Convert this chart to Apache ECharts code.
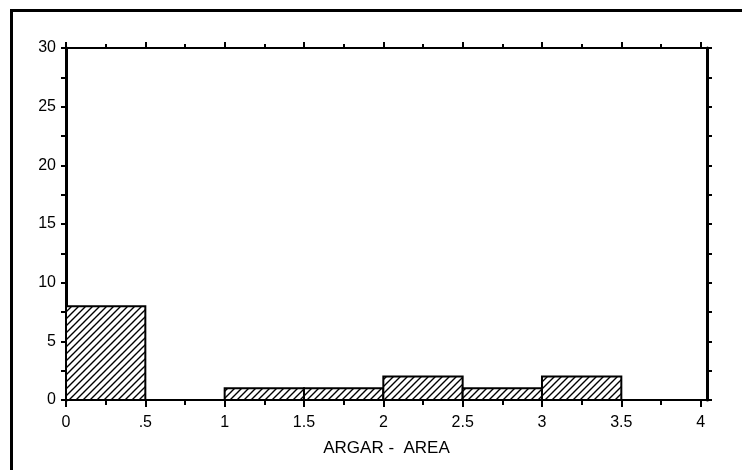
<!DOCTYPE html>
<html>
<head>
<meta charset="utf-8">
<script src="https://cdn.jsdelivr.net/npm/echarts@6/dist/echarts.min.js"></script>
<style>
html,body{margin:0;padding:0;background:#fff;}
#chart{width:742px;height:470px;}
</style>
</head>
<body>
<div id="chart"></div>
<script>
// Histogram bins (ARGAR - AREA)
const binStart = [0, 0.5, 1, 1.5, 2, 2.5, 3, 3.5];
const binEnd   = [0.5, 1, 1.5, 2, 2.5, 3, 3.5, 4];
const counts   = [8, 0, 1, 1, 2, 1, 2, 0];
const xMajorTicks = [0, 0.5, 1, 1.5, 2, 2.5, 3, 3.5, 4];
const xMinorTicks = [0.25, 0.75, 1.25, 1.75, 2.25, 2.75, 3.25, 3.75];
const xLabels  = ['0', '.5', '1', '1.5', '2', '2.5', '3', '3.5', '4'];
const yMajorTicks = [0, 5, 10, 15, 20, 25, 30];
const yMinorTicks = [2.5, 7.5, 12.5, 17.5, 22.5, 27.5];
const axisTitle = 'ARGAR -  AREA';

const data = binStart.map((s, i) => [s, binEnd[i], counts[i]]);

// hatch pattern
const tile = document.createElement('canvas');
tile.width = 7; tile.height = 7;
const g = tile.getContext('2d');
g.fillStyle = '#fff'; g.fillRect(0, 0, 7, 7);
g.strokeStyle = '#000'; g.lineWidth = 1.4;
g.beginPath();
g.moveTo(-1, 8); g.lineTo(8, -1);
g.moveTo(-2, 2); g.lineTo(2, -2);
g.moveTo(5, 9); g.lineTo(9, 5);
g.stroke();
const hatch = { image: tile, repeat: 'repeat' };

const FONT = '"Liberation Sans", Arial, Helvetica, sans-serif';
const X_MAX = 4.04;

const chart = echarts.init(document.getElementById('chart'), null, { renderer: 'canvas' });

function xAxisDef(pos, ticks, len, showLine, extra) {
  return Object.assign({
    type: 'value', min: 0, max: X_MAX, position: pos,
    splitLine: { show: false },
    axisLine: { show: showLine, onZero: false, lineStyle: { color: '#000', width: 2 } },
    axisTick: { show: true, inside: false, length: len, customValues: ticks,
                lineStyle: { color: '#000', width: 2 } },
    axisLabel: { show: false }
  }, extra || {});
}
function yAxisDef(pos, ticks, showLine, extra) {
  return Object.assign({
    type: 'value', min: 0, max: 30, position: pos,
    splitLine: { show: false },
    axisLine: { show: showLine, onZero: false, lineStyle: { color: '#000', width: 3 } },
    axisTick: { show: true, inside: false, length: 5, customValues: ticks,
                lineStyle: { color: '#000', width: 2 } },
    axisLabel: { show: false }
  }, extra || {});
}

chart.setOption({
  backgroundColor: '#fff',
  animation: false,
  graphic: [{
    type: 'rect', silent: true,
    shape: { x: 11.5, y: 10.5, width: 800, height: 600 },
    style: { fill: 'none', stroke: '#000', lineWidth: 3 }
  }],
  grid: { left: 66, right: 35, top: 48, bottom: 70, containLabel: false },
  xAxis: [
    xAxisDef('bottom', xMajorTicks, 7, true, {
      name: axisTitle, nameLocation: 'middle', nameGap: 40,
      nameTextStyle: { color: '#000', fontFamily: FONT, fontSize: 17 },
      axisLabel: {
        show: true, margin: 15, color: '#000', fontFamily: FONT, fontSize: 16,
        customValues: xMajorTicks,
        formatter: v => { const i = xMajorTicks.indexOf(v); return i >= 0 ? xLabels[i] : ''; }
      }
    }),
    xAxisDef('bottom', xMinorTicks, 5, false),
    xAxisDef('top', xMajorTicks, 6, true),
    xAxisDef('top', xMinorTicks, 4, false)
  ],
  yAxis: [
    yAxisDef('left', yMajorTicks, true, {
      axisLabel: { show: true, margin: 10, color: '#000', fontFamily: FONT, fontSize: 16,
                   customValues: yMajorTicks }
    }),
    yAxisDef('left', yMinorTicks, false),
    yAxisDef('right', yMajorTicks, true),
    yAxisDef('right', yMinorTicks, false)
  ],
  series: [{
    type: 'custom',
    xAxisIndex: 0, yAxisIndex: 0,
    encode: { x: [0, 1], y: 2 },
    data: data,
    renderItem: function (params, api) {
      const x0 = api.value(0), x1 = api.value(1), c = api.value(2);
      if (!(c > 0)) return null;
      const p0 = api.coord([x0, c]);
      const p1 = api.coord([x1, 0]);
      return {
        type: 'rect',
        shape: { x: p0[0], y: p0[1], width: p1[0] - p0[0], height: p1[1] - p0[1] },
        style: { fill: hatch, stroke: '#000', lineWidth: 2 }
      };
    }
  }]
});
</script>
</body>
</html>
